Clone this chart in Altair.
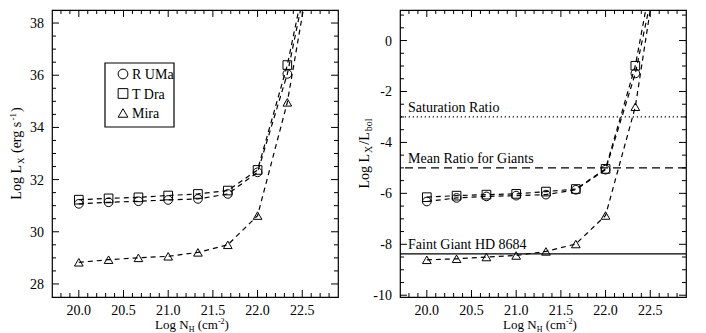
import altair as alt
import pandas as pd

FONT = "Liberation Serif, Times New Roman, Times, serif"
W, H = 286, 287
XDOM = [19.7, 22.9]
LDOM = [27.5, 38.5]
RDOM = [-10.07, 1.2]

series_names = ["R UMa", "T Dra", "Mira"]
series_shapes = ["circle", "square", "triangle-up"]

# Log N_H grid (last point lies beyond the frame; the dashed curves run off the top)
log_nh = [20.0, 20.333, 20.667, 21.0, 21.333, 21.667, 22.0, 22.333, 22.667]

# Left panel: Log L_X (erg s^-1)
lx_r_uma = [31.07, 31.13, 31.17, 31.22, 31.26, 31.45, 32.28, 36.05, 41.6]
lx_t_dra = [31.23, 31.28, 31.32, 31.39, 31.45, 31.58, 32.37, 36.39, 41.9]
lx_mira = [28.83, 28.93, 29.00, 29.06, 29.21, 29.50, 30.62, 34.96, 41.6]

# Right panel: Log L_X / L_bol
rb_r_uma = [-6.32, -6.18, -6.12, -6.09, -6.05, -5.86, -5.07, -1.29, 4.3]
rb_t_dra = [-6.15, -6.09, -6.05, -6.02, -5.93, -5.83, -5.04, -0.99, 5.3]
rb_mira = [-8.61, -8.57, -8.50, -8.44, -8.28, -7.99, -6.87, -2.60, 5.0]

# Reference levels on the right panel
ref_labels = ["Saturation Ratio", "Mean Ratio for Giants", "Faint Giant HD 8684"]
ref_values = [-3.0, -5.0, -8.38]

# Axis ticks and tick labels
x_major = [20.0, 20.5, 21.0, 21.5, 22.0, 22.5]
x_major_labels = ["20.0", "20.5", "21.0", "21.5", "22.0", "22.5"]
x_minor = [19.8, 19.9, 20.1, 20.2, 20.3, 20.4, 20.6, 20.7, 20.8, 20.9, 21.1, 21.2,
           21.3, 21.4, 21.6, 21.7, 21.8, 21.9, 22.1, 22.2, 22.3, 22.4, 22.6, 22.7, 22.8]
l_major = [28, 30, 32, 34, 36, 38]
l_major_labels = ["28", "30", "32", "34", "36", "38"]
l_minor = [28.5, 29, 29.5, 30.5, 31, 31.5, 32.5, 33, 33.5, 34.5, 35, 35.5, 36.5, 37, 37.5]
r_major = [-10, -8, -6, -4, -2, 0]
r_major_labels = ["-10", "-8", "-6", "-4", "-2", "0"]
r_minor = [-9.5, -9, -8.5, -7.5, -7, -6.5, -5.5, -5, -4.5, -3.5, -3, -2.5, -1.5, -1, -0.5, 0.5, 1.0]

SHAPE_SCALE = alt.Scale(domain=series_names, range=series_shapes)


def make_frame(a, b, c):
    rows = []
    for name, vals in zip(series_names, (a, b, c)):
        for xv, yv in zip(log_nh, vals):
            rows.append({"nh": xv, "v": yv, "series": name})
    return pd.DataFrame(rows)


CW = {' ': 250, '(': 333, ')': 333, '-': 333, '/': 278, '.': 250, 'L': 611, 'X': 722,
      'N': 722, 'H': 722, 'o': 500, 'g': 500, 'e': 444, 'r': 333, 's': 389, 'c': 444,
      'm': 778, 'b': 500, 'l': 278, '1': 500, '2': 500}


def tw(s, size):
    return sum(CW.get(ch, 500) for ch in s) * size / 1000.0


def title_layers(pieces, horizontal, cx, cy, gap=0.0):
    total = sum(tw(t, s) for t, s, _ in pieces) + gap * (len(pieces) - 1)
    pos = -total / 2
    out = []
    for t, s, sh in pieces:
        stripped = t.lstrip(" ")
        lead = tw(t[: len(t) - len(stripped)], s)
        p = pos + lead
        if horizontal:
            px, py, ang = cx + p, cy + sh, 0
        else:
            px, py, ang = cx + sh, cy - p, 270
        out.append(
            alt.Chart(alt.Data(values=[{}]))
            .mark_text(text=stripped, font=FONT, fontSize=s, align="left",
                       baseline="alphabetic", angle=ang, color="black")
            .encode(x=alt.value(px), y=alt.value(py))
        )
        pos += tw(t, s) + gap
    return out


def tick_layers(xs, ys, ymaj, ymaj_labels, ymin):
    out = []
    for vals, ln in ((x_major, 7), (x_minor, 4)):
        base = alt.Chart(pd.DataFrame({"t": vals})).mark_rule(color="black", strokeWidth=1)
        xe = alt.X("t:Q", scale=xs, axis=None)
        out.append(base.encode(x=xe, y=alt.value(H), y2=alt.value(H - ln)))
        out.append(base.encode(x=xe, y=alt.value(0), y2=alt.value(ln)))
    for vals, ln in ((ymaj, 7), (ymin, 4)):
        base = alt.Chart(pd.DataFrame({"t": vals})).mark_rule(color="black", strokeWidth=1)
        ye = alt.Y("t:Q", scale=ys, axis=None)
        out.append(base.encode(y=ye, x=alt.value(0), x2=alt.value(ln)))
        out.append(base.encode(y=ye, x=alt.value(W), x2=alt.value(W - ln)))
    # tick labels
    out.append(
        alt.Chart(pd.DataFrame({"t": x_major, "lab": x_major_labels}))
        .mark_text(font=FONT, fontSize=14, baseline="alphabetic", align="center", color="black")
        .encode(x=alt.X("t:Q", scale=xs, axis=None), y=alt.value(H + 18), text="lab:N")
    )
    out.append(
        alt.Chart(pd.DataFrame({"t": ymaj, "lab": ymaj_labels}))
        .mark_text(font=FONT, fontSize=14, baseline="middle", align="right", dy=1, color="black")
        .encode(y=alt.Y("t:Q", scale=ys, axis=None), x=alt.value(-8), text="lab:N")
    )
    return out


def legend_layers():
    # boxed key in the upper left of the left panel
    out = [
        alt.Chart(alt.Data(values=[{}]))
        .mark_rect(fill="white", stroke="black", strokeWidth=1.2)
        .encode(x=alt.value(53), x2=alt.value(122), y=alt.value(53), y2=alt.value(117))
    ]
    rows_y = [64, 83.5, 103]
    for name, ry in zip(series_names, rows_y):
        d = pd.DataFrame({"series": [name]})
        out.append(
            alt.Chart(d).mark_point(filled=False, color="black", size=95, strokeWidth=1, opacity=1)
            .encode(x=alt.value(71), y=alt.value(ry),
                    shape=alt.Shape("series:N", scale=SHAPE_SCALE, legend=None))
        )
        out.append(
            alt.Chart(d).mark_text(font=FONT, fontSize=14, align="left", baseline="middle",
                                   dy=1, color="black")
            .encode(x=alt.value(80), y=alt.value(ry), text="series:N")
        )
    return out


def panel(df, ydom, ymaj, ymaj_labels, ymin, extra_layers, ytitle):
    xs = alt.Scale(domain=XDOM, nice=False, zero=False)
    ys = alt.Scale(domain=ydom, nice=False, zero=False)
    lines = alt.Chart(df).mark_line(color="black", strokeDash=[5, 4], strokeWidth=1.2, clip=True).encode(
        x=alt.X("nh:Q", scale=xs, axis=None),
        y=alt.Y("v:Q", scale=ys, axis=None),
        detail="series:N",
    )
    pts = alt.Chart(df).transform_filter("datum.nh < 22.5").mark_point(
        filled=False, color="black", size=75, strokeWidth=1, opacity=1
    ).encode(
        x=alt.X("nh:Q", scale=xs, axis=None),
        y=alt.Y("v:Q", scale=ys, axis=None),
        shape=alt.Shape("series:N", scale=SHAPE_SCALE, legend=None),
    )
    layers = [lines] + extra_layers(xs, ys) + [pts] + tick_layers(xs, ys, ymaj, ymaj_labels, ymin)
    layers += title_layers([("Log N", 13, 0), ("H", 8, 3), (" (cm", 13, 0), ("-2", 8, -5), (")", 13, 0)],
                           True, W / 2 - 3, H + 32)
    layers += title_layers(ytitle, False, -31, H / 2, gap=1.0)
    return alt.layer(*layers).properties(width=W, height=H)


left = panel(make_frame(lx_r_uma, lx_t_dra, lx_mira), LDOM, l_major, l_major_labels, l_minor,
             lambda xs, ys: legend_layers(),
             [("Log L", 14, 0), ("X", 9, 3), (" (erg s", 14, 0), ("-1", 9, -5), (")", 14, 0)])


def ref_lines(xs, ys):
    out = []
    dashes = [[1.2, 2.8], [8, 5], None]
    for lab, val, dash in zip(ref_labels, ref_values, dashes):
        d = pd.DataFrame({"v": [val], "label": [lab]})
        mk = dict(color="black", strokeWidth=1.2)
        if dash:
            mk["strokeDash"] = dash
        out.append(alt.Chart(d).mark_rule(**mk).encode(y=alt.Y("v:Q", scale=ys, axis=None)))
    td = pd.DataFrame({"v": ref_values, "label": ref_labels})
    out.append(alt.Chart(td).mark_text(align="left", baseline="alphabetic", dy=-5, font=FONT,
                                       fontSize=14, color="black").encode(
        x=alt.value(8), y=alt.Y("v:Q", scale=ys, axis=None), text="label:N"))
    return out


right = panel(make_frame(rb_r_uma, rb_t_dra, rb_mira), RDOM, r_major, r_major_labels, r_minor,
              ref_lines,
              [("Log L", 14, 0), ("X", 10, 3), ("/L", 14, 0), ("bol", 10, 3)])

chart = alt.hconcat(left, right, spacing=17).resolve_scale(
    x="independent", y="independent", shape="independent"
).properties(padding={"left": 0, "top": 0, "right": 0, "bottom": 0}).configure_view(
    stroke="black", strokeWidth=1.2
)

chart.save("out.html", embed_options={"renderer": "svg", "actions": False})
